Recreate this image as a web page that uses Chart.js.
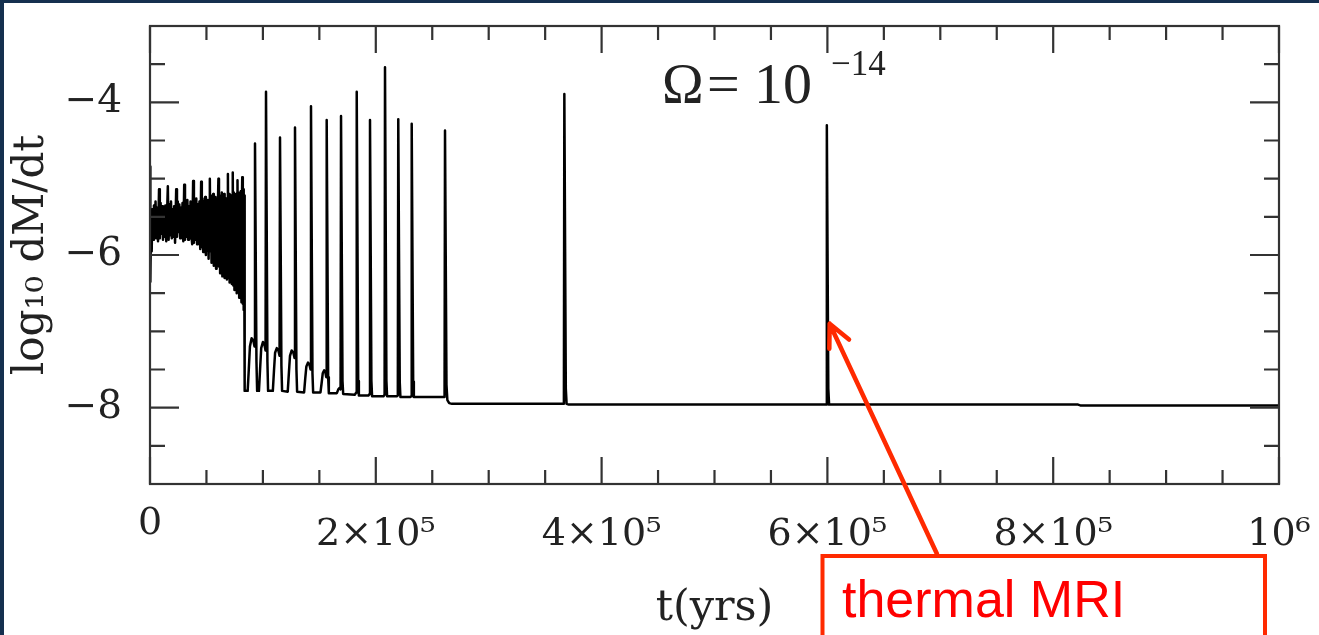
<!DOCTYPE html>
<html>
<head>
<meta charset="utf-8">
<title>log10 dM/dt vs t</title>
<script src="https://cdn.jsdelivr.net/npm/chart.js@4.4.0/dist/chart.umd.min.js"></script>
<style>
  html, body { margin: 0; padding: 0; background: #fff; overflow: hidden; }
  #frame { width: 1315px; height: 632px; border-top: 3px solid #15304f; border-left: 4px solid #15304f; background: #fff; }
  canvas { display: block; }
</style>
</head>
<body>
<div id="frame"><canvas id="rateChart" width="1315" height="632"></canvas></div>
<script>
// Early phase: irregular flickering before the first big burst (t in years, log10 dM/dt)
const chaosT = [0, 300, 900, 1500, 2100, 2800, 3500, 4200, 4900, 5600, 6300, 7100,
  8000, 8700, 9400, 10100, 10800, 11500, 12200, 12900, 13600, 14400,
  15800, 16500, 17200, 17900, 18600, 19300, 20000, 20700, 21400, 22200,
  23200, 23900, 24600, 25300, 26000, 26700, 27400, 28100, 28800, 29500,
  30300, 31000, 31700, 32400, 33100, 33800, 34500, 35200, 35900, 36600, 37400,
  38200, 38900, 39600, 40300, 41000, 41700, 42400, 43100, 43800, 44500,
  45300, 45900, 46500, 47100, 47700, 48300, 48900, 49500, 50100, 50700, 51300, 51900, 52400,
  53000, 53500, 54000, 54500, 55000, 55500, 56000, 56500, 57000, 57500, 58000, 58500, 59000, 59500, 60000,
  60600, 61100, 61600, 62100, 62600, 63100, 63600, 64100, 64600, 65100, 65600, 66100, 66600, 67100, 67600, 68100, 68600,
  69000, 69500, 70000, 70500, 71000, 71500, 72000, 72500, 72900,
  73300, 73800, 74300, 74800, 75300, 75800, 76300, 76800, 77100,
  77500, 78000, 78500, 79000, 79500, 80000, 80500, 81000, 81400,
  81700, 82200, 82600, 83000, 83300, 83700];
const chaosLog = [-4.84, -6.35, -5.55, -5.95, -5.40, -5.80, -5.35, -5.75, -5.30, -5.78, -5.38, -5.82,
  -5.14, -5.78, -5.32, -5.72, -5.36, -5.80, -5.42, -5.76, -5.35, -5.82,
  -5.10, -5.80, -5.34, -5.74, -5.30, -5.78, -5.40, -5.76, -5.36, -5.84,
  -5.14, -5.76, -5.30, -5.70, -5.34, -5.78, -5.38, -5.74, -5.32, -5.82,
  -5.08, -5.80, -5.30, -5.76, -5.28, -5.80, -5.36, -5.78, -5.30, -5.74, -5.86,
  -5.03, -5.84, -5.28, -5.80, -5.26, -5.86, -5.34, -5.82, -5.30, -5.92,
  -5.04, -5.90, -5.26, -5.96, -5.30, -5.88, -5.24, -6.00, -5.32, -5.94, -5.28, -6.05, -5.40,
  -5.00, -5.95, -5.22, -6.10, -5.28, -6.02, -5.20, -6.14, -5.30, -6.08, -5.24, -6.18, -5.34, -6.12, -5.44,
  -5.00, -6.15, -5.22, -6.24, -5.28, -6.20, -5.18, -6.28, -5.30, -6.22, -5.20, -6.30, -5.34, -6.26, -5.26, -6.32, -5.40,
  -4.94, -6.30, -5.20, -6.36, -5.30, -6.28, -5.22, -6.38, -5.36,
  -4.92, -6.40, -5.18, -6.46, -5.26, -6.42, -5.20, -6.50, -5.40,
  -5.02, -6.48, -5.18, -6.56, -5.24, -6.52, -5.16, -6.62, -5.30,
  -4.98, -6.64, -5.14, -6.72, -5.22, -6.78];

// Regular outbursts on a quiescent floor
const burstT = [84000, 86500, 87500, 88500, 90000, 91500, 92600, 93000, 94300, 94900,
  96500, 97500, 98500, 100000, 101300, 102350, 102750, 104000, 104600,
  108800, 109800, 110800, 112300, 113700, 114750, 115150, 116400, 117000,
  122000, 123000, 124000, 125500, 127000, 128030, 128430, 129700, 130300,
  136500, 137500, 138500, 140000, 141300, 142200, 142600, 143900, 144500,
  151000, 152000, 153000, 154300, 155400, 156100, 156500, 157800, 158400,
  165500, 166800, 168000, 168800, 169200, 170500, 171100,
  181500, 182700, 183100, 184400, 185000,
  193500, 194500, 194860, 196100, 196700,
  206800, 207800, 208150, 209400, 210000,
  218600, 219500, 219900, 221200, 221800,
  230500, 231400, 231800, 233100, 233700,
  260000, 260900, 261300, 262600, 263400, 265000, 267500];
const burstLog = [-7.78, -7.78, -7.50, -7.20, -7.09, -7.12, -7.20, -4.54, -7.40, -7.78,
  -7.78, -7.50, -7.22, -7.14, -7.17, -7.25, -3.86, -7.40, -7.78,
  -7.78, -7.52, -7.28, -7.22, -7.25, -7.32, -4.46, -7.45, -7.78,
  -7.79, -7.55, -7.32, -7.25, -7.28, -7.35, -4.33, -7.50, -7.79,
  -7.80, -7.62, -7.46, -7.41, -7.44, -7.50, -4.05, -7.55, -7.80,
  -7.80, -7.68, -7.55, -7.51, -7.54, -7.60, -4.23, -7.60, -7.81,
  -7.81, -7.76, -7.74, -7.76, -4.18, -7.65, -7.82,
  -7.83, -7.80, -3.86, -7.65, -7.84,
  -7.84, -7.82, -4.23, -7.65, -7.85,
  -7.85, -7.83, -3.54, -7.65, -7.85,
  -7.85, -7.84, -4.22, -7.66, -7.86,
  -7.86, -7.85, -4.28, -7.66, -7.86,
  -7.86, -7.86, -4.37, -7.70, -7.90, -7.94, -7.95];

// Two isolated late bursts, then flat to the end
const lateT = [365800, 366600, 367000, 368300, 369000, 371000,
  598200, 599100, 599500, 600800, 601500, 822000, 824000, 1000000];
const lateLog = [-7.95, -7.95, -3.89, -7.75, -7.95, -7.96,
  -7.96, -7.96, -4.30, -7.75, -7.96, -7.96, -7.97, -7.97];

// Axis ticks and labels
const xMajorTicks = [0, 200000, 400000, 600000, 800000, 1000000];
const xTickLabels = ['0', '2×10⁵', '4×10⁵', '6×10⁵', '8×10⁵', '10⁶'];
const xMinorTicks = [50000, 100000, 150000, 250000, 300000, 350000, 450000, 500000, 550000,
  650000, 700000, 750000, 850000, 900000, 950000];
const yMajorTicks = [-8, -6, -4];
const yTickLabels = ['−8', '−6', '−4'];
const yMinorTicks = [-8.5, -7.5, -7, -6.5, -5.5, -5, -4.5, -3.5];

// where the "thermal MRI" arrow points (on the 6e5 yr burst)
const arrowTarget = { t: 602000, v: -6.9 };

const allT = chaosT.concat(burstT, lateT);
const allLog = chaosLog.concat(burstLog, lateLog);
const points = allT.map((t, i) => ({ x: t, y: allLog[i] }));

const serif = 'DejaVu Serif';

// box frame with inward ticks on all four sides
const axisFrame = {
  id: 'axisFrame',
  afterDatasetsDraw(chart) {
    const { ctx, chartArea: a, scales: { x, y } } = chart;
    ctx.save();
    ctx.strokeStyle = '#333';
    ctx.lineWidth = 2.2;
    ctx.lineCap = 'butt';
    ctx.beginPath();
    const xTick = (v, len) => {
      const px = x.getPixelForValue(v);
      ctx.moveTo(px, a.bottom); ctx.lineTo(px, a.bottom - len);
      ctx.moveTo(px, a.top); ctx.lineTo(px, a.top + len);
    };
    const yTick = (v, len) => {
      const py = y.getPixelForValue(v);
      ctx.moveTo(a.left, py); ctx.lineTo(a.left + len, py);
      ctx.moveTo(a.right, py); ctx.lineTo(a.right - len, py);
    };
    xMajorTicks.forEach(v => xTick(v, 27));
    xMinorTicks.forEach(v => xTick(v, 14));
    yMajorTicks.forEach(v => yTick(v, 29));
    yMinorTicks.forEach(v => yTick(v, 15));
    ctx.stroke();
    ctx.strokeRect(a.left, a.top, a.right - a.left, a.bottom - a.top);
    ctx.restore();
  }
};

// Omega label, red callout box and arrow
const notes = {
  id: 'notes',
  afterDraw(chart) {
    const { ctx, scales: { x, y } } = chart;
    ctx.save();
    ctx.fillStyle = '#222';
    ctx.textBaseline = 'alphabetic';
    ctx.font = '56px "Liberation Serif"';
    ctx.fillText('Ω', 658, 100);
    ctx.font = '58px "Liberation Serif"';
    ctx.fillText('=', 703, 100);
    ctx.fillText('10', 750, 100);
    ctx.font = '35px "Liberation Serif"';
    ctx.fillText('−14', 827, 72);

    // callout box
    ctx.strokeStyle = '#ff2a00';
    ctx.lineWidth = 4;
    ctx.strokeRect(818.5, 553, 442.5, 120);
    ctx.fillStyle = '#ff0000';
    ctx.font = '52px "Liberation Sans"';
    ctx.fillText('thermal MRI', 838, 614);

    // arrow from box to the burst
    const tipX = x.getPixelForValue(arrowTarget.t);
    const tipY = y.getPixelForValue(arrowTarget.v);
    const tailX = 933, tailY = 551;
    const ang = Math.atan2(tailY - tipY, tailX - tipX);
    const head = 25, spread = 0.45;
    ctx.lineWidth = 4.5;
    ctx.lineCap = 'round';
    ctx.lineJoin = 'round';
    ctx.beginPath();
    ctx.moveTo(tailX, tailY);
    ctx.lineTo(tipX, tipY);
    ctx.moveTo(tipX + head * Math.cos(ang - spread), tipY + head * Math.sin(ang - spread));
    ctx.lineTo(tipX, tipY);
    ctx.lineTo(tipX + head * Math.cos(ang + spread), tipY + head * Math.sin(ang + spread));
    ctx.stroke();
    ctx.restore();
  }
};

const ctx = document.getElementById('rateChart').getContext('2d');
const rateChart = new Chart(ctx, {
  type: 'scatter',
  data: {
    datasets: [{
      data: points,
      showLine: true,
      borderColor: '#000',
      borderWidth: 2.5,
      borderJoinStyle: 'round',
      pointRadius: 0,
      pointHoverRadius: 0,
      tension: 0
    }]
  },
  options: {
    responsive: false,
    animation: false,
    events: [],
    layout: { padding: { top: 23, right: 40, left: 0, bottom: 0 } },
    plugins: { legend: { display: false }, tooltip: { enabled: false } },
    scales: {
      x: {
        type: 'linear',
        min: 0,
        max: 1000000,
        grid: { display: false, drawTicks: false },
        border: { display: false },
        afterBuildTicks: s => { s.ticks = xMajorTicks.map(v => ({ value: v })); },
        afterFit: s => {
          s.height = 151;
          s.paddingLeft = 0;
          s.paddingRight = 0;
        },
        ticks: {
          padding: 28,
          color: '#222',
          maxRotation: 0,
          autoSkip: false,
          // the lone "0" sits a little higher than the powers of ten
          font: c => ({ family: serif, size: 38, lineHeight: c.index === 0 ? 0.63 : 1.2 }),
          callback: (v, i) => xTickLabels[i]
        },
        title: {
          display: true,
          text: 't(yrs)',
          color: '#222',
          font: { family: serif, size: 43 },
          padding: { top: 0, bottom: 0 }
        }
      },
      y: {
        type: 'linear',
        min: -9,
        max: -3,
        grid: { display: false, drawTicks: false },
        border: { display: false },
        afterBuildTicks: s => { s.ticks = yMajorTicks.map(v => ({ value: v })); },
        afterFit: s => {
          s.width = 146;
          s.paddingTop = 0;
          s.paddingBottom = 0;
        },
        ticks: {
          padding: 28,
          color: '#222',
          font: { family: serif, size: 39 },
          callback: (v, i) => yTickLabels[i]
        },
        title: {
          display: true,
          text: 'log₁₀ dM/dt',
          color: '#222',
          font: { family: serif, size: 42 },
          padding: { top: 3, bottom: 0 }
        }
      }
    }
  },
  plugins: [axisFrame, notes]
});
</script>
</body>
</html>
